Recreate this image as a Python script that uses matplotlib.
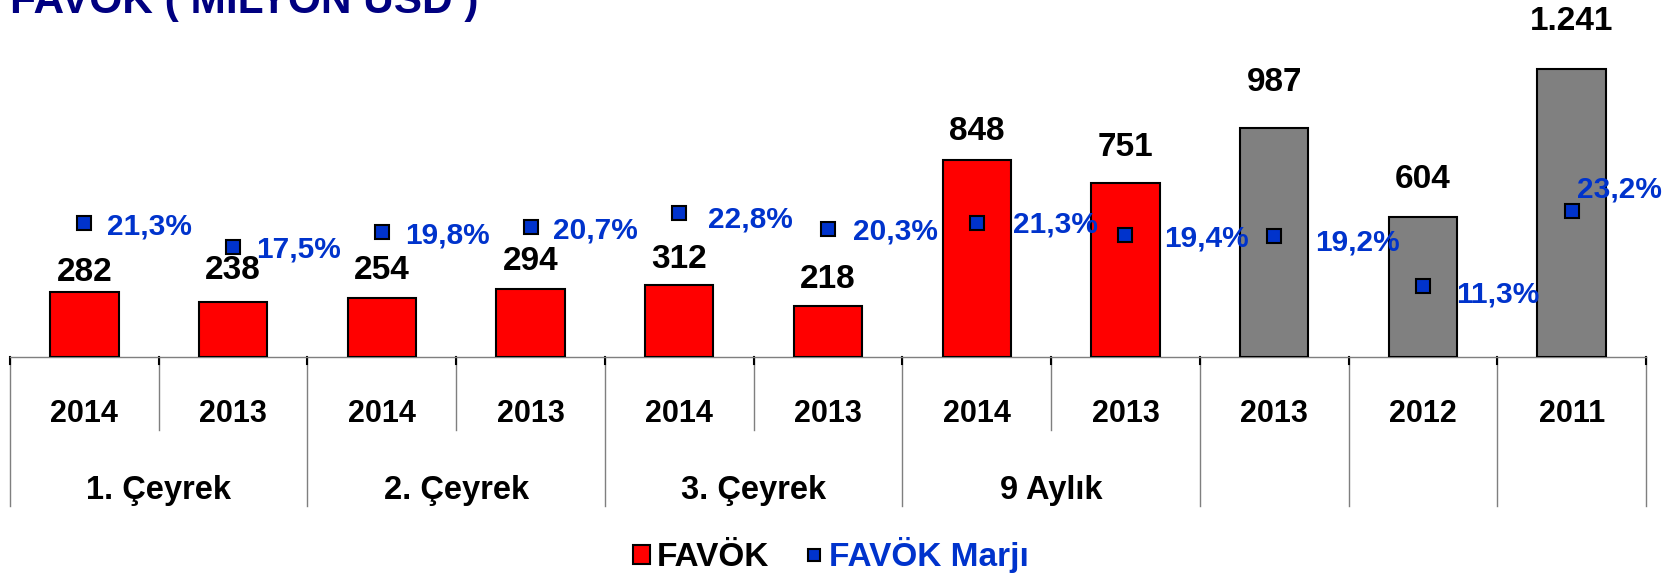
import matplotlib
matplotlib.use("Agg")
import matplotlib.pyplot as plt
from matplotlib.patches import Patch
from matplotlib.lines import Line2D
from matplotlib.transforms import blended_transform_factory

# ---- data ----
years = ['2014', '2013', '2014', '2013', '2014', '2013', '2014', '2013', '2013', '2012', '2011']
favok = [282, 238, 254, 294, 312, 218, 848, 751, 987, 604, 1241]
marj = [21.3, 17.5, 19.8, 20.7, 22.8, 20.3, 21.3, 19.4, 19.2, 11.3, 23.2]
groups = ['1. Çeyrek', '2. Çeyrek', '3. Çeyrek', '9 Aylık']
group_size = 2
title = 'FAVÖK ( MİLYON USD )'
legend_labels = ['FAVÖK', 'FAVÖK Marjı']

# ---- style ----
RED = '#FF0000'
GRAY = '#808080'
BLUE = '#0033CC'
NAVY = '#000080'
LINE = '#7F7F7F'
FONT = 'Liberation Sans'
plt.rcParams['font.family'] = [FONT, 'DejaVu Sans']
plt.rcParams['font.weight'] = 'bold'

W, H = 1671, 575
fig = plt.figure(figsize=(W / 100, H / 100), dpi=100)

# axes geometry in pixels
left_px, right_px = 10, 1646
base_px, top_px = 357, 20
ax = fig.add_axes([left_px / W, 1 - base_px / H, (right_px - left_px) / W, (base_px - top_px) / H])
ax_h = base_px - top_px

n = len(years)
x = list(range(n))
colors = [RED] * (len(groups) * group_size) + [GRAY] * (n - len(groups) * group_size)

ax.bar(x, favok, width=0.46, color=colors, edgecolor='black', linewidth=1.5, zorder=3)
ax.set_xlim(-0.5, n - 0.5)
ax.set_ylim(0, ax_h / 0.232)
ax.set_xticks([])
ax.set_yticks([])
for s in ['top', 'left', 'right']:
    ax.spines[s].set_visible(False)
ax.spines['bottom'].set_color(LINE)
ax.spines['bottom'].set_linewidth(1)

# value labels
val_gap = [11, 23, 19, 19, 17, 18, 20, 27, 37, 29, 39]
for i, v in enumerate(favok):
    txt = f'{v:,}'.replace(',', '.')
    ax.annotate(txt, (i, v), xytext=(0, val_gap[i]), textcoords='offset pixels',
                ha='center', va='baseline', fontsize=24, fontweight='bold', color='black', zorder=5)

# secondary axis with margin markers
ax2 = ax.twinx()
ax2.set_ylim(0, ax_h / 6.3)
ax2.set_xlim(-0.5, n - 0.5)
ax2.set_yticks([])
for s in ax2.spines.values():
    s.set_visible(False)
ax2.plot(x, marj, linestyle='none', marker='s', markersize=10, markerfacecolor=BLUE,
         markeredgecolor='black', markeredgewidth=1.5, zorder=6)

pct_off = [(23, -1), (23, 0), (23, 0), (22, -1), (29, -3), (25, 1), (36, 1), (39, -1), (41, -3), (33, -6), (5, 24)]
for i, m in enumerate(marj):
    dx, dy = pct_off[i]
    txt = f'{m:.1f}%'.replace('.', ',')
    ax2.annotate(txt, (i, m), xytext=(dx, dy - 11), textcoords='offset pixels',
                 ha='left', va='baseline', fontsize=21.5, fontweight='bold', color=BLUE, zorder=7)

# category table below axis
trans = blended_transform_factory(ax.transData, ax.transAxes)
def yfrac(py):
    return (base_px - py) / ax_h

inner_bottom = yfrac(430)
outer_bottom = yfrac(506)
n_grouped = len(groups) * group_size
for b in range(n + 1):
    xb = b - 0.5
    if b < n_grouped and b % group_size == 1:
        yb = inner_bottom
    else:
        yb = outer_bottom
    ax.plot([xb, xb], [0, yb], transform=trans, color=LINE, lw=1, clip_on=False, zorder=1)
    ax.plot([xb, xb], [0, yfrac(364)], transform=trans, color='black', lw=1.5, clip_on=False, zorder=2)

for i, yr in enumerate(years):
    ax.text(i, yfrac(422), yr, transform=trans, ha='center', va='baseline',
            fontsize=22, fontweight='bold', color='black')
for g, name in enumerate(groups):
    xc = g * group_size + (group_size - 1) / 2
    ax.text(xc, yfrac(499), name, transform=trans, ha='center', va='baseline',
            fontsize=23.5, fontweight='bold', color='black')

# title (partially cut off at top)
fig.text(10 / W, 1 - 13 / H, title, ha='left', va='baseline', fontsize=30.5,
         fontweight='bold', color=NAVY)

# legend
handles = [Patch(facecolor=RED, edgecolor='black', linewidth=1.5),
           Line2D([], [], linestyle='none', marker='s', markersize=9, markerfacecolor=BLUE,
                  markeredgecolor='black', markeredgewidth=1.5)]
leg = fig.legend(handles, legend_labels, loc='center', bbox_to_anchor=(831 / W, 1 - 555 / H),
                 ncol=2, frameon=False, prop={'family': FONT, 'weight': 'bold', 'size': 24},
                 handlelength=0.5, handleheight=0.5, handletextpad=0.2, columnspacing=1.1,
                 borderpad=0, borderaxespad=0)
leg.get_texts()[0].set_color('black')
leg.get_texts()[1].set_color(BLUE)

fig.savefig('out.png', dpi=100)
